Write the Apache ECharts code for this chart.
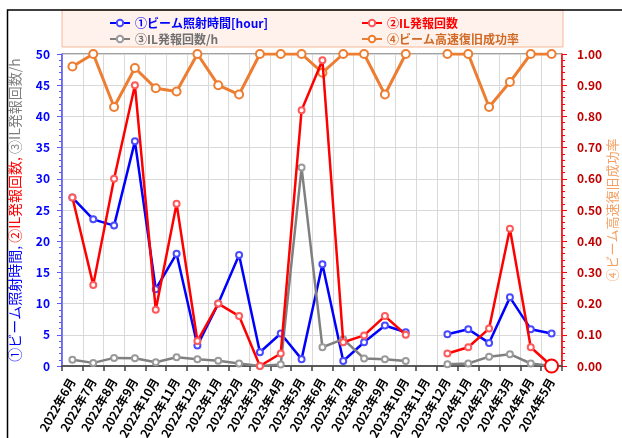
<!DOCTYPE html>
<html>
<head>
<meta charset="utf-8">
<script src="https://cdn.jsdelivr.net/npm/echarts@6/dist/echarts.min.js"></script>
<style>
  html, body { margin: 0; padding: 0; background: #fff; }
  #chart { width: 622px; height: 438px; }
</style>
</head>
<body>
<div id="chart"></div>
<script>
const months = [
  '2022年6月', '2022年7月', '2022年8月', '2022年9月', '2022年10月', '2022年11月', '2022年12月',
  '2023年1月', '2023年2月', '2023年3月', '2023年4月', '2023年5月', '2023年6月', '2023年7月',
  '2023年8月', '2023年9月', '2023年10月', '2023年11月', '2023年12月',
  '2024年1月', '2024年2月', '2024年3月', '2024年4月', '2024年5月'
];
// ①ビーム照射時間[hour]
const beamHours = [27, 23.5, 22.5, 36, 12.3, 18, 3.3, 10, 17.8, 2.2, 5.2, 1.1, 16.3, 0.8, 3.8, 6.5, 5.4, null, 5.1, 5.9, 3.7, 11, 5.9, 5.2];
// ②IL発報回数
const ilCount = [27, 13, 30, 45, 9, 26, 4, 10, 8, 0, 2, 41, 49, 3.8, 4.9, 8, 5, null, 2, 3, 6, 22, 3, 0];
// ③IL発報回数/h
const ilPerHour = [1.0, 0.5, 1.3, 1.25, 0.6, 1.4, 1.1, 0.85, 0.4, 0, 0.25, 31.8, 3.0, 4.3, 1.2, 1.1, 0.8, null, 0.3, 0.4, 1.5, 1.9, 0.4, 0];
// ④ビーム高速復旧成功率
const recoveryRate = [0.96, 1.0, 0.83, 0.955, 0.89, 0.88, 1.0, 0.90, 0.87, 1.0, 1.0, 1.0, 0.94, 1.0, 1.0, 0.87, 1.0, null, 1.0, 1.0, 0.83, 0.91, 1.0, 1.0];

const names = ['①ビーム照射時間[hour]', '②IL発報回数', '③IL発報回数/h', '④ビーム高速復旧成功率'];
const font = '"Noto Sans CJK JP", "Noto Sans", sans-serif';

const chart = echarts.init(document.getElementById('chart'));

function lineSeries(name, data, color, symColor, yIndex, size, width) {
  return {
    name: name,
    type: 'line',
    yAxisIndex: yIndex,
    data: data,
    symbol: 'emptyCircle',
    symbolSize: size,
    lineStyle: { color: color, width: width },
    itemStyle: { color: symColor, borderWidth: yIndex ? 2 : 1.2 },
    emphasis: { disabled: true },
    animation: false
  };
}

// last red point is drawn larger
const ilData = ilCount.map((v, i) => i === ilCount.length - 1
  ? { value: v, symbolSize: 13, itemStyle: { color: '#ff0000', borderWidth: 3.5 } }
  : v);

const ilSeries = lineSeries(names[1], ilData, '#ff0000', '#ff5a5a', 0, 6, 2.5);
ilSeries.z = 4;

chart.setOption({
  animation: false,
  textStyle: { fontFamily: font },
  graphic: [
    {
      type: 'rect',
      shape: { x: 62, y: 10, width: 501, height: 37 },
      style: { fill: '#fff1ec', stroke: '#f8b894', lineWidth: 1 },
      z: -1
    },
    {
      type: 'polyline',
      shape: { points: [[7.5, 440], [7.5, 10], [625, 10]] },
      style: { stroke: '#000', lineWidth: 1.5, fill: null },
      z: 0
    }
  ],
  legend: [
    {
      orient: 'vertical',
      left: 104,
      top: 12,
      itemGap: 4,
      itemWidth: 20,
      itemHeight: 8,
      textStyle: { fontSize: 12, fontWeight: 'bold', fontFamily: font },
      data: [
        { name: names[0], textStyle: { color: '#0000ff' } },
        { name: names[2], textStyle: { color: '#707070' } }
      ]
    },
    {
      orient: 'vertical',
      left: 356,
      top: 12,
      itemGap: 4,
      itemWidth: 20,
      itemHeight: 8,
      textStyle: { fontSize: 12, fontWeight: 'bold', fontFamily: font },
      data: [
        { name: names[1], textStyle: { color: '#ff0000' } },
        { name: names[3], textStyle: { color: '#d06a25' } }
      ]
    }
  ],
  grid: {
    left: 62, right: 60, top: 54, bottom: 72,
    outerBoundsMode: 'none',
    show: true, borderColor: '#404040', borderWidth: 1
  },
  xAxis: {
    type: 'category',
    data: months,
    boundaryGap: true,
    axisLine: { lineStyle: { color: '#595959', width: 2 } },
    axisTick: { show: true, length: 5, lineStyle: { color: '#404040', width: 1.5 } },
    splitLine: { show: true, lineStyle: { color: '#d9d9d9', width: 1 } },
    axisLabel: {
      interval: 0,
      rotate: 60,
      margin: 13,
      color: '#000',
      fontSize: 12,
      fontWeight: 'bold',
      fontFamily: font
    }
  },
  yAxis: [
    {
      type: 'value',
      min: 0,
      max: 50,
      interval: 5,
      name: '{a|①ビーム照射時間, }{b|②IL発報回数, }{c|③IL発報回数/h}',
      nameLocation: 'middle',
      nameRotate: 90,
      nameGap: 40,
      nameTextStyle: {
        fontSize: 14,
        fontFamily: font,
        rich: {
          a: { color: '#0000ff', fontSize: 14, fontFamily: font },
          b: { color: '#ff0000', fontSize: 14, fontFamily: font },
          c: { color: '#7f7f7f', fontSize: 14, fontFamily: font }
        }
      },
      axisLine: { show: true, lineStyle: { color: '#5b5bff', width: 1.5 } },
      axisTick: { show: true, length: 5, lineStyle: { color: '#5b5bff' } },
      minorTick: { show: true, splitNumber: 5, length: 3, lineStyle: { color: '#5b5bff' } },
      splitLine: { show: true, lineStyle: { color: '#d9d9d9', width: 1 } },
      axisLabel: { color: '#0000ff', fontSize: 12, fontWeight: 'bold', margin: 12, fontFamily: font }
    },
    {
      type: 'value',
      min: 0,
      max: 1,
      interval: 0.1,
      position: 'right',
      name: '④ビーム高速復旧成功率',
      nameLocation: 'middle',
      nameRotate: 90,
      nameGap: 44,
      nameMoveOverlap: false,
      nameTextStyle: { color: '#f4a062', fontSize: 13, fontFamily: font },
      axisLine: { show: true, lineStyle: { color: '#ff0000', width: 1.5 } },
      axisTick: { show: true, length: 5, lineStyle: { color: '#ff0000' } },
      minorTick: { show: true, splitNumber: 5, length: 3, lineStyle: { color: '#ff0000' } },
      splitLine: { show: false },
      axisLabel: {
        color: '#c00000',
        fontSize: 12,
        fontWeight: 'bold',
        margin: 15,
        fontFamily: font,
        formatter: (v) => v.toFixed(2)
      }
    }
  ],
  series: [
    lineSeries(names[0], beamHours, '#0000ff', '#4a4aff', 0, 6, 2.5),
    ilSeries,
    lineSeries(names[2], ilPerHour, '#808080', '#9a9a9a', 0, 6, 2.5),
    lineSeries(names[3], recoveryRate, '#ed7d31', '#ed7d31', 1, 8, 3)
  ]
});
</script>
</body>
</html>
